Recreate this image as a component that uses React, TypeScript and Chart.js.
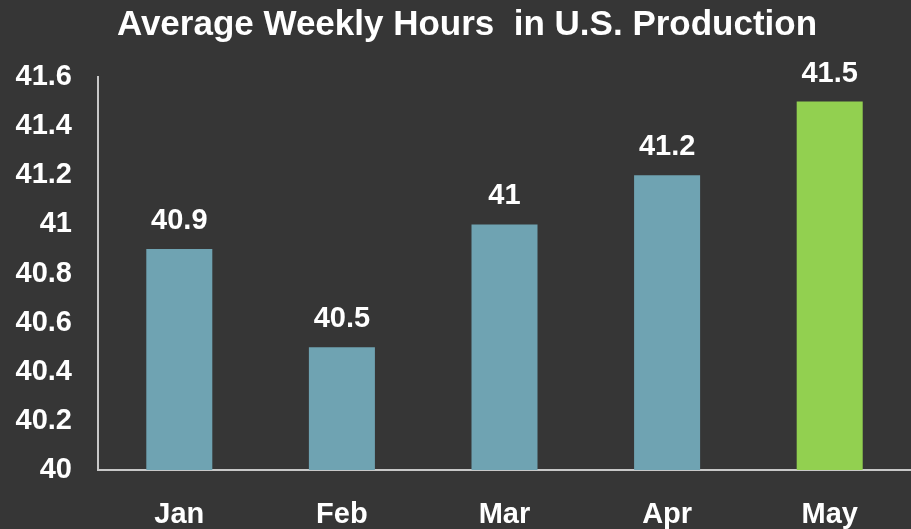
import React, { useEffect, useRef } from "react";
import { Chart, registerables } from "chart.js";

Chart.register(...registerables);

const categories = ["Jan", "Feb", "Mar", "Apr", "May"];
const hours = [40.9, 40.5, 41, 41.2, 41.5];
const barColors = ["#6FA3B2", "#6FA3B2", "#6FA3B2", "#6FA3B2", "#92D050"];
const titleText = "Average Weekly Hours  in U.S. Production";
const yMin = 40;
const yMax = 41.6;
const yStep = 0.2;

const FONT = "'Liberation Sans', Arial, sans-serif";

export default function App() {
  const ref = useRef<HTMLCanvasElement>(null);
  useEffect(() => {
    document.body.style.margin = "0";
    const canvas = ref.current!;
    const labelPlugin = {
      id: "labels",
      afterDraw(chart: any) {
        const ctx = chart.ctx;
        ctx.save();
        ctx.fillStyle = "#FFFFFF";
        ctx.font = `bold 35px ${FONT}`;
        ctx.textAlign = "center";
        ctx.textBaseline = "middle";
        ctx.fillText(titleText, 467, 25);
        ctx.font = `bold 29px ${FONT}`;
        const meta = chart.getDatasetMeta(0);
        meta.data.forEach((bar: any, i: number) => {
          ctx.fillText(String(hours[i]), bar.x, bar.y - 28);
        });
        ctx.restore();
      },
    };
    const chart = new Chart(canvas, {
      type: "bar",
      data: {
        labels: categories,
        datasets: [
          {
            data: hours,
            backgroundColor: barColors,
            categoryPercentage: 1,
            barPercentage: 0.406,
          },
        ],
      },
      options: {
        animation: false,
        responsive: false,
        maintainAspectRatio: false,
        layout: { padding: { top: 77, right: 0, left: 0, bottom: 0 } },
        plugins: {
          legend: { display: false },
          title: { display: false },
          tooltip: { enabled: false },
        },
        scales: {
          x: {
            grid: { display: false, drawTicks: false },
            border: { color: "#C8C8C8", width: 2 },
            afterFit(scale: any) {
              scale.height = 59;
            },
            ticks: {
              color: "#FFFFFF",
              font: { family: FONT, size: 29, weight: "bold" },
              padding: 28,
            },
          },
          y: {
            min: yMin,
            max: yMax,
            grid: { display: false, drawTicks: false },
            border: { color: "#C8C8C8", width: 2 },
            afterFit(scale: any) {
              scale.width = 98;
            },
            ticks: {
              stepSize: yStep,
              color: "#FFFFFF",
              font: { family: FONT, size: 29, weight: "bold" },
              padding: 26,
              callback: (v: any) => String(Math.round(Number(v) * 10) / 10),
            },
          },
        },
      },
      plugins: [labelPlugin],
    });
    return () => chart.destroy();
  }, []);
  return (
    <div style={{ position: "fixed", left: 0, top: 0, width: 911, height: 529, background: "#363636" }}>
      <canvas ref={ref} width={911} height={529} style={{ display: "block" }} />
    </div>
  );
}
